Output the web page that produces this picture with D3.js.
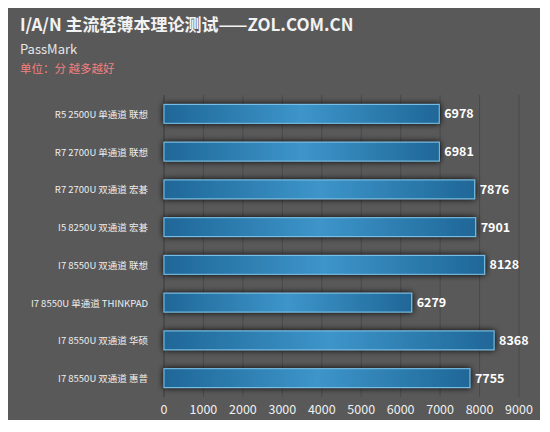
<!DOCTYPE html><html><head><meta charset="utf-8"><script src="https://cdn.jsdelivr.net/npm/d3@7"></script>
<style>body{margin:0;background:#fff}</style></head><body><svg id="c" width="550" height="432"></svg><script>
const categories=["R5 2500U 单通道 联想","R7 2700U 单通道 联想","R7 2700U 双通道 宏碁","I5 8250U 双通道 宏碁","I7 8550U 双通道 联想","I7 8550U 单通道 THINKPAD","I7 8550U 双通道 华硕","I7 8550U 双通道 惠普"];
const values=[6978,6981,7876,7901,8128,6279,8368,7755];
const ticks=[0,1000,2000,3000,4000,5000,6000,7000,8000,9000];
const svg=d3.select("#c");
const f="'Noto Sans CJK SC','Liberation Sans',sans-serif";
const defs=svg.append("defs");
const flt=defs.append("filter").attr("id","sh").attr("x","-10%").attr("y","-50%").attr("width","120%").attr("height","200%");
flt.append("feGaussianBlur").attr("in","SourceAlpha").attr("stdDeviation",3);
const fm=flt.append("feMerge");fm.append("feMergeNode");fm.append("feMergeNode").attr("in","SourceGraphic");
const g=defs.append("linearGradient").attr("id","bg");
[["0%","#1f6798"],["50%","#3d95c9"],["100%","#1f6798"]].forEach(s=>g.append("stop").attr("offset",s[0]).attr("stop-color",s[1]));
svg.append("rect").attr("x",8).attr("y",8).attr("width",532).attr("height",412).attr("fill","#595959");
svg.append("text").attr("x",20).attr("y",31).attr("fill","#f2f2f2").attr("font-size",17).attr("font-weight","bold").attr("font-family",f).text("I/A/N 主流轻薄本理论测试——ZOL.COM.CN");
svg.append("text").attr("x",20).attr("y",54).attr("fill","#e6e6e6").attr("font-size",13).attr("font-family",f).text("PassMark");
svg.append("text").attr("x",20).attr("y",73).attr("fill","#f28080").attr("font-size",11.5).attr("font-family",f).text("单位：分 越多越好");
const x=d3.scaleLinear().domain([0,9000]).range([164,519]);
const y=d3.scaleBand().domain(categories).range([95,397]).paddingInner(0.5).paddingOuter(0.25);
svg.append("g").selectAll("line").data(ticks).join("line").attr("x1",d=>x(d)).attr("x2",d=>x(d)).attr("y1",95).attr("y2",397).attr("stroke",d=>d?"#4a4a4a":"#3a3a3a");
svg.append("g").selectAll("rect").data(values).join("rect").attr("x",x(0)).attr("y",(d,i)=>y(categories[i])).attr("width",d=>x(d)-x(0)).attr("height",y.bandwidth()).attr("fill","url(#bg)").attr("stroke","#7cc3ea").attr("stroke-width",1).attr("filter","url(#sh)");
svg.append("g").selectAll("text").data(values).join("text").attr("x",d=>x(d)+5).attr("y",(d,i)=>y(categories[i])+y.bandwidth()/2+4.5).attr("fill","#fff").attr("font-weight","bold").attr("font-size",12.5).attr("font-family",f).text(d=>d);
svg.append("g").selectAll("text").data(categories).join("text").attr("x",148).attr("y",d=>y(d)+y.bandwidth()/2+4).attr("text-anchor","end").attr("fill","#eee").attr("font-size",9.5).attr("font-family",f).text(d=>d);
svg.append("g").selectAll("text").data(ticks).join("text").attr("x",d=>x(d)).attr("y",414).attr("text-anchor","middle").attr("fill","#f0f0f0").attr("font-size",12.5).attr("font-family",f).text(d=>d);
</script></body></html>
